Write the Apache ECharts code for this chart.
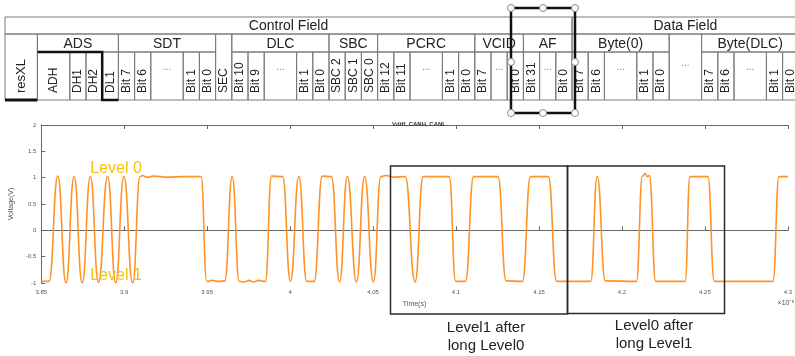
<!DOCTYPE html>
<html>
<head>
<meta charset="utf-8">
<script src="https://cdn.jsdelivr.net/npm/echarts@6/dist/echarts.min.js"></script>
<style>
  html, body { margin: 0; padding: 0; background: #fff; }
  #chart { width: 795px; height: 356px; }
</style>
</head>
<body>
<div id="chart"></div>
<script>
// frame format table (labels + how many unit columns each cell spans)
const headerTop = ["Control Field", "Data Field"];
const headerTopSpan = [35, 14];
const groupNames = ["", "ADS", "SDT", "", "DLC", "SBC", "PCRC", "VCID", "AF", "Byte(0)", "", "Byte(DLC)"];
const groupSpan = [2, 5, 6, 1, 6, 3, 6, 3, 3, 6, 2, 6];
const bitNames = [
  "resXL", "ADH", "DH1", "DH2", "DL1",
  "Bit 7", "Bit 6", "...", "Bit 1", "Bit 0",
  "SEC",
  "Bit 10", "Bit 9", "...", "Bit 1", "Bit 0",
  "SBC 2", "SBC 1", "SBC 0",
  "Bit 12", "Bit 11", "...", "Bit 1", "Bit 0",
  "Bit 7", "...", "Bit 0",
  "Bit 31", "...", "Bit 0",
  "Bit 7", "Bit 6", "...", "Bit 1", "Bit 0",
  "...",
  "Bit 7", "Bit 6", "...", "Bit 1", "Bit 0"
];
const bitSpan = [
  2, 2, 1, 1, 1,
  1, 1, 2, 1, 1,
  1,
  1, 1, 2, 1, 1,
  1, 1, 1,
  1, 1, 2, 1, 1,
  1, 1, 1,
  1, 1, 1,
  1, 1, 2, 1, 1,
  2,
  1, 1, 2, 1, 1
];

// scope trace (time in 1e-5 s, Vdiff in V)
const sampleTime = [
  3.85, 3.8547, 3.86, 3.8649, 3.8698, 3.8747, 3.8796, 3.8845, 3.89, 3.8949,
  3.8998, 3.9051, 3.9096, 3.911, 3.9135, 3.918, 3.926, 3.936, 3.9463, 3.9498,
  3.953, 3.957, 3.9606, 3.9651, 3.9694, 3.9725, 3.975, 3.978, 3.981, 3.9851,
  3.9888, 3.9955, 4.0002, 4.0053, 4.01, 4.0145, 4.0194, 4.0249, 4.0298, 4.0345,
  4.04, 4.0449, 4.0502, 4.0547, 4.058, 4.062, 4.0694, 4.0753, 4.0802, 4.0959,
  4.0998, 4.1057, 4.1106, 4.1253, 4.1302, 4.14, 4.1449, 4.1557, 4.1606, 4.1812,
  4.1851, 4.19, 4.2087, 4.2124, 4.214, 4.2152, 4.2165, 4.2204, 4.2381, 4.241,
  4.2518, 4.2557, 4.291, 4.2947, 4.3
];
const sampleVolt = [
  -0.97, -0.97, 1.03, -1.0, 1.02, -1.0, 1.02, -0.99, 1.02, -1.0,
  1.02, -1.0, 1.02, 1.04, 1.01, 1.03, 1.01, 1.02, 1.02, -0.97,
  -0.95, -0.97, -0.96, 1.02, -0.97, -0.98, -0.95, -0.98, -0.95, -0.97,
  1.03, 1.02, -0.97, 1.02, -0.97, -0.97, 1.03, 1.02, -0.98, 1.02,
  -0.98, 1.02, -0.98, 1.02, 1.04, 1.01, 1.02, -0.98, 1.02, 1.02,
  -0.97, -0.97, 1.02, 1.02, -0.96, -0.97, 1.02, 1.02, -0.97, -0.97,
  1.02, -0.96, -0.97, 1.03, 1.08, 1.02, 1.04, -0.97, -0.97, 1.02,
  1.02, -0.97, -0.97, 1.02, 1.02
];

const FONT = '"Liberation Sans", Arial, sans-serif';
const LINE = "#7a7a7a";
const INK = "#222";

// table layout
const tblLeft = 5;
const unit = 16.2;
const rowY = [17, 34, 52, 100];
const ux = (u) => tblLeft + u * unit;

const graphics = [];

function rect(x, y, w, h, stroke, lw) {
  graphics.push({
    type: "rect", z: 5,
    shape: { x: x, y: y, width: w, height: h },
    style: { fill: "none", stroke: stroke || LINE, lineWidth: lw || 1 }
  });
}

function text(x, y, str, size, color, opts) {
  opts = opts || {};
  const align = opts.align || "center";
  graphics.push({
    type: "text", z: 10,
    x: x, y: y,
    rotation: opts.rotation || 0,
    style: {
      text: str,
      font: size + "px " + FONT,
      fill: color || INK,
      align: align, textAlign: align,
      verticalAlign: "middle", textVerticalAlign: "middle",
      lineHeight: opts.lineHeight
    }
  });
}

// row 1
let u = 0;
headerTop.forEach((name, i) => {
  const w = headerTopSpan[i] * unit;
  rect(ux(u), rowY[0], w, rowY[1] - rowY[0]);
  text(ux(u) + w / 2, 26, name, 14);
  u += headerTopSpan[i];
});

// row 2 (empty name = cell merged with row 3)
u = 0;
const merged = [];
groupNames.forEach((name, i) => {
  const w = groupSpan[i] * unit;
  if (name === "") {
    merged.push([u, u + groupSpan[i]]);
  } else {
    rect(ux(u), rowY[1], w, rowY[2] - rowY[1]);
    text(ux(u) + w / 2, 44, name, 14);
  }
  u += groupSpan[i];
});

// row 3
u = 0;
bitNames.forEach((name, i) => {
  const w = bitSpan[i] * unit;
  const isMerged = merged.some((r) => u >= r[0] && u < r[1]);
  const y0 = isMerged ? rowY[1] : rowY[2];
  rect(ux(u), y0, w, rowY[3] - y0);
  if (name === "...") {
    text(ux(u) + w / 2, isMerged ? 63 : 67, "...", 10, "#888");
  } else {
    text(ux(u) + w / 2, 93, name, name === "resXL" ? 13 : 12, INK,
      { rotation: Math.PI / 2, align: "left" });
  }
  u += bitSpan[i];
});

// thick highlight strokes in the table
graphics.push({
  type: "polyline", z: 8,
  shape: { points: [[ux(2), rowY[2]], [ux(6), rowY[2]], [ux(6), rowY[3]], [ux(7), rowY[3]]] },
  style: { stroke: "#111", lineWidth: 2.5, fill: "none" }
});
graphics.push({
  type: "line", z: 8,
  shape: { x1: ux(0), y1: rowY[3], x2: ux(2), y2: rowY[3] },
  style: { stroke: "#111", lineWidth: 3 }
});

// selected shape around AF with its handles
graphics.push({
  type: "rect", z: 12,
  shape: { x: 511, y: 8, width: 64, height: 105 },
  style: { fill: "none", stroke: "#111", lineWidth: 2.5 }
});
[[511, 8], [543, 8], [575, 8], [511, 62], [575, 62], [511, 113], [543, 113], [575, 113]].forEach((p) => {
  graphics.push({
    type: "circle", z: 13,
    shape: { cx: p[0], cy: p[1], r: 3.5 },
    style: { fill: "#fff", stroke: "#888", lineWidth: 1 }
  });
});

// annotations on the plot
rect(390.5, 166, 177, 148, "#2a2a2a", 1.5);
rect(567.5, 166, 157, 147.5, "#2a2a2a", 1.5);
text(486, 337, "Level1 after\nlong Level0", 15, INK, { lineHeight: 18 });
text(654, 335, "Level0 after\nlong Level1", 15, INK, { lineHeight: 18 });
text(116, 169, "Level 0", 16, "#F5C20A");
text(116, 276, "Level 1", 16, "#F5C20A");
text(786, 303, "×10⁻⁵", 7, "#555");

const chart = echarts.init(document.getElementById("chart"));

const axisGray = "#666";
const tickStyle = { fontSize: 6, color: "#555", fontFamily: FONT };

chart.setOption({
  animation: false,
  backgroundColor: "#fff",
  title: {
    text: "Vdiff, CANH, CANL",
    left: 414,
    top: 116,
    textAlign: "center",
    textStyle: { fontSize: 6, fontWeight: "bold", color: "#333", fontFamily: FONT }
  },
  grid: { left: 32, top: 125, width: 765, height: 158 },
  xAxis: [
    {
      type: "value",
      min: 3.85, max: 4.3, interval: 0.05,
      name: "Time(s)",
      nameLocation: "middle",
      nameGap: 18,
      nameTextStyle: { fontSize: 7, color: "#555", fontFamily: FONT },
      axisLine: { lineStyle: { color: axisGray, width: 1 } },
      axisTick: { inside: true, length: 4, lineStyle: { color: axisGray } },
      axisLabel: Object.assign({ margin: 6 }, tickStyle),
      splitLine: { show: false }
    },
    {
      type: "value",
      position: "top",
      min: 3.85, max: 4.3, interval: 0.05,
      axisLine: { show: true, lineStyle: { color: axisGray, width: 1 } },
      axisTick: { inside: true, length: 4, lineStyle: { color: axisGray } },
      axisLabel: { show: false },
      splitLine: { show: false }
    }
  ],
  yAxis: {
    type: "value",
    min: -1, max: 2, interval: 0.5,
    name: "Voltage(V)",
    nameLocation: "middle",
    nameGap: 20,
    nameTextStyle: { fontSize: 7, color: "#555", fontFamily: FONT },
    axisLine: { show: true, lineStyle: { color: axisGray, width: 1 } },
    axisTick: { show: true, inside: true, length: 4, lineStyle: { color: axisGray } },
    axisLabel: Object.assign({ margin: 5 }, tickStyle),
    splitLine: { show: false }
  },
  series: [
    {
      type: "line",
      name: "Vdiff",
      data: sampleTime.map((t, i) => [t, sampleVolt[i]]),
      showSymbol: false,
      smooth: 0.5,
      smoothMonotone: "x",
      lineStyle: { color: "#FF9326", width: 1.6 },
      z: 3
    }
  ],
  graphic: { elements: graphics }
});
</script>
</body>
</html>
